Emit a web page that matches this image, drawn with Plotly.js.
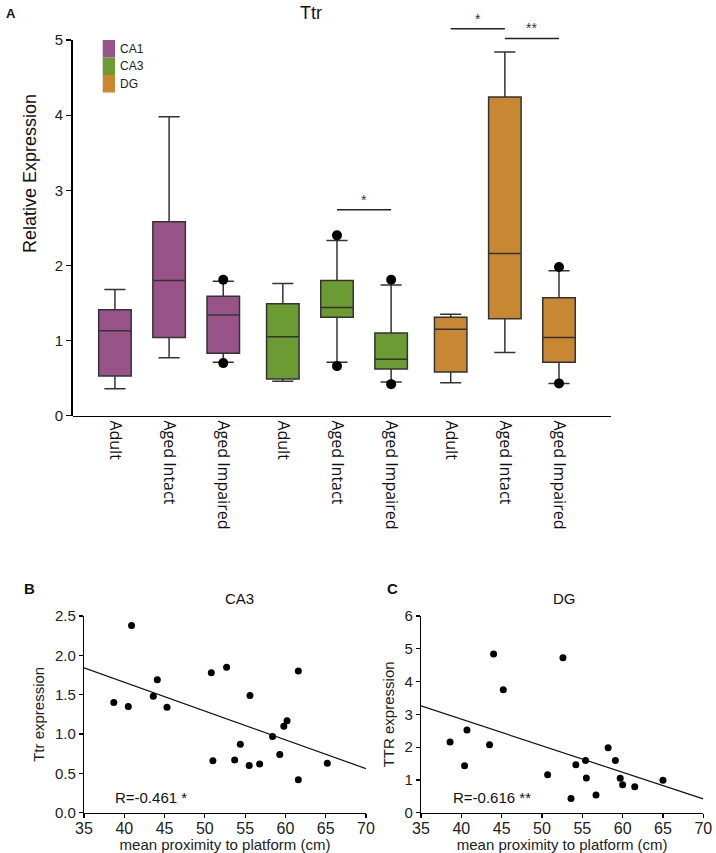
<!DOCTYPE html>
<html>
<head>
<meta charset="utf-8">
<script src="https://cdn.plot.ly/plotly-3.0.1.min.js"></script>
<style>
html, body { margin: 0; padding: 0; background: #ffffff; }
</style>
</head>
<body>
<div id="ttr_figure" style="width:716px;height:853px;"></div>
<script>
var regions = [ 'CA1', 'CA3', 'DG' ];
var conditions = [ 'Adult', 'Aged Intact', 'Aged Impaired' ];

// box statistics, one row per region, one column per condition
var box_upper  = [ [ 1.68, 3.98, 1.79 ], [ 1.76, 2.33, 1.74 ], [ 1.35, 4.84, 1.93 ] ];
var box_q3     = [ [ 1.41, 2.58, 1.59 ], [ 1.49, 1.80, 1.10 ], [ 1.31, 4.24, 1.57 ] ];
var box_median = [ [ 1.13, 1.80, 1.34 ], [ 1.05, 1.44, 0.75 ], [ 1.15, 2.16, 1.04 ] ];
var box_q1     = [ [ 0.53, 1.04, 0.83 ], [ 0.49, 1.31, 0.62 ], [ 0.58, 1.29, 0.71 ] ];
var box_lower  = [ [ 0.36, 0.77, 0.71 ], [ 0.46, 0.71, 0.45 ], [ 0.44, 0.84, 0.43 ] ];

// dots beyond the whiskers: box index ( region * 3 + condition ) and value
var outlier_box   = [ 2, 2, 4, 4, 5, 5, 8, 8 ];
var outlier_value = [ 1.81, 0.70, 2.40, 0.66, 1.81, 0.42, 1.98, 0.43 ];

// significance bars between boxes
var sig_from  = [ 4, 6, 7 ];
var sig_to    = [ 5, 7, 8 ];
var sig_y     = [ 2.74, 5.15, 5.02 ];
var sig_label = [ '*', '*', '**' ];

// panel B, CA3
var proximity_ca3 = [ 38.7, 40.5, 40.9, 43.6, 44.1, 45.3, 50.8, 51.0, 52.7, 53.7, 54.4, 55.6, 55.5, 56.8, 58.4, 59.3, 59.8, 60.2, 61.6, 61.6, 65.2 ];
var ttr_ca3       = [ 1.40, 1.35, 2.38, 1.48, 1.69, 1.34, 1.78, 0.66, 1.85, 0.67, 0.87, 1.49, 0.60, 0.62, 0.97, 0.74, 1.10, 1.17, 1.80, 0.42, 0.63 ];
var fit_x   = [ 35, 70 ];
var fit_ca3 = [ 1.84, 0.56 ];
var r_ca3   = 'R=-0.461 *';

// panel C, DG
var proximity_dg = [ 38.6, 40.4, 40.7, 43.5, 44.0, 45.2, 50.7, 52.6, 53.6, 54.2, 55.4, 55.5, 56.7, 58.2, 59.1, 59.7, 60.0, 61.5, 65.0 ];
var ttr_dg       = [ 2.16, 1.43, 2.52, 2.07, 4.84, 3.75, 1.16, 4.73, 0.43, 1.46, 1.59, 1.06, 0.54, 1.98, 1.59, 1.05, 0.85, 0.79, 0.99 ];
var fit_dg = [ 3.26, 0.42 ];
var r_dg   = 'R=-0.616 **';

var W = 716;
var H = 853;
var region_colors = [ '#985488', '#6c9b34', '#c88732' ];
var sans = 'Liberation Sans, Arial, sans-serif';

function px( x ) { return x / W; }
function py( y ) { return 1 - y / H; }

function box_position( k )
{
    var group = Math.floor( k / 3 );
    return k + 1 + group * 0.1;
}

var data = [];
var tick_positions = [];
var tick_labels = [];

for( var r = 0; r < regions.length; r++ )
{
    var xs = [];
    for( var c = 0; c < conditions.length; c++ )
    {
        xs.push( box_position( r * 3 + c ) );
        tick_positions.push( box_position( r * 3 + c ) );
        tick_labels.push( conditions[ c ] );
    }
    data.push(
        {
            type: 'box',
            name: regions[ r ],
            x: xs,
            q1: box_q1[ r ],
            median: box_median[ r ],
            q3: box_q3[ r ],
            lowerfence: box_lower[ r ],
            upperfence: box_upper[ r ],
            width: 0.6,
            whiskerwidth: 0.65,
            boxpoints: false,
            fillcolor: region_colors[ r ],
            line: { color: '#333333', width: 1.5 },
            xaxis: 'x',
            yaxis: 'y',
            hoverinfo: 'y'
        }
    );
}

data.push(
    {
        type: 'scatter',
        mode: 'markers',
        x: outlier_box.map( box_position ),
        y: outlier_value,
        marker: { color: '#000000', size: 10 },
        cliponaxis: false,
        xaxis: 'x',
        yaxis: 'y'
    }
);

// empty trace so the visible 0-5 axis (x4 / y4) gets drawn
data.push( { type: 'scatter', mode: 'markers', x: [], y: [], xaxis: 'x4', yaxis: 'y4', hoverinfo: 'skip' } );

data.push(
    {
        type: 'scatter', mode: 'markers',
        x: proximity_ca3, y: ttr_ca3,
        marker: { color: '#000000', size: 7 },
        cliponaxis: false,
        xaxis: 'x2', yaxis: 'y2'
    },
    {
        type: 'scatter', mode: 'lines',
        x: fit_x, y: fit_ca3,
        line: { color: '#111111', width: 1.2 },
        xaxis: 'x2', yaxis: 'y2'
    },
    {
        type: 'scatter', mode: 'markers',
        x: proximity_dg, y: ttr_dg,
        marker: { color: '#000000', size: 7 },
        cliponaxis: false,
        xaxis: 'x3', yaxis: 'y3'
    },
    {
        type: 'scatter', mode: 'lines',
        x: fit_x, y: fit_dg,
        line: { color: '#111111', width: 1.2 },
        xaxis: 'x3', yaxis: 'y3'
    }
);

var shapes = [];
var annotations = [];

for( var i = 0; i < sig_from.length; i++ )
{
    var a = box_position( sig_from[ i ] );
    var b = box_position( sig_to[ i ] );
    shapes.push(
        {
            type: 'line', xref: 'x', yref: 'y',
            x0: a, x1: b, y0: sig_y[ i ], y1: sig_y[ i ],
            line: { color: '#222222', width: 1.5 }
        }
    );
    annotations.push(
        {
            xref: 'x', yref: 'y', x: ( a + b ) / 2, y: sig_y[ i ],
            text: sig_label[ i ], showarrow: false, yanchor: 'bottom',
            font: { family: sans, size: 14, color: '#333333' }
        }
    );
}

// legend swatches
for( var r = 0; r < regions.length; r++ )
{
    var swatch_top = 40 + r * 17.5;
    shapes.push(
        {
            type: 'rect', xref: 'paper', yref: 'paper',
            x0: px( 102.7 ), x1: px( 115 ), y0: py( swatch_top ), y1: py( swatch_top + 17.5 ),
            fillcolor: region_colors[ r ], line: { width: 0 }
        }
    );
    annotations.push(
        {
            xref: 'paper', yref: 'paper', x: px( 117.5 ), y: py( swatch_top + 9 ),
            xanchor: 'left', yanchor: 'middle', showarrow: false, text: regions[ r ],
            font: { family: sans, size: 12, color: '#222222' }
        }
    );
}

function label( text, x, y, size, anchor, bold, angle )
{
    annotations.push(
        {
            xref: 'paper', yref: 'paper', x: px( x ), y: py( y ),
            xanchor: anchor, yanchor: 'middle', showarrow: false,
            text: bold ? '<b>' + text + '</b>' : text,
            textangle: angle || 0,
            font: { family: sans, size: size, color: '#111111' }
        }
    );
}

label( 'A', 4, 13, 13, 'left', true );
label( 'Ttr', 311, 13, 18, 'center', false );
label( 'Relative Expression', 30, 174, 18, 'center', false, -90 );
label( 'B', 22, 588, 15, 'left', true );
label( 'C', 385, 588, 15, 'left', true );
label( 'CA3', 240, 598, 15, 'center', false );
label( 'DG', 564, 598, 15, 'center', false );
label( r_ca3, 113, 797, 15, 'left', false );
label( r_dg, 451, 797, 15, 'left', false );

function scatter_x_axis( domain, anchor )
{
    return {
        domain: domain, anchor: anchor, range: [ 35, 70 ], dtick: 5,
        showline: true, linecolor: '#000000', linewidth: 1.2,
        ticks: 'outside', ticklen: 4, tickwidth: 1.2, tickcolor: '#000000',
        ticklabelstandoff: -3,
        showgrid: false, zeroline: false,
        tickfont: { family: sans, size: 16, color: '#222222' },
        title: { text: 'mean proximity to platform (cm)', standoff: 2, font: { family: sans, size: 15, color: '#222222' } }
    };
}

function scatter_y_axis( domain, anchor, range, dtick, format, title )
{
    return {
        domain: domain, anchor: anchor, range: range, dtick: dtick, tickformat: format,
        showline: true, linecolor: '#000000', linewidth: 1.2,
        ticks: 'outside', ticklen: 4, tickwidth: 1.2, tickcolor: '#000000',
        showgrid: false, zeroline: false,
        tickfont: { family: sans, size: 15, color: '#222222' },
        title: { text: title, standoff: 6, font: { family: sans, size: 15, color: '#222222' } }
    };
}

// box axes reach above 5 for the significance bars; the visible y axis is y4
var layout =
{
    width: W,
    height: H,
    margin: { l: 0, r: 0, t: 0, b: 0 },
    paper_bgcolor: '#ffffff',
    plot_bgcolor: 'rgba(0,0,0,0)',
    showlegend: false,
    boxmode: 'overlay',
    xaxis:
    {
        domain: [ px( 72.7 ), px( 611 ) ], anchor: 'y',
        range: [ 0.22, 10.16 ],
        tickvals: tick_positions, ticktext: tick_labels, tickangle: 90,
        ticks: '', showgrid: false, zeroline: false,
        showline: true, linecolor: '#000000', linewidth: 1.5,
        tickfont: { family: 'Open Sans, sans-serif', size: 16, color: '#111111' }
    },
    yaxis:
    {
        domain: [ py( 415.7 ), py( 9.94 ) ], anchor: 'x',
        range: [ 0, 5.4 ], visible: false,
        showgrid: false, zeroline: false
    },
    xaxis4:
    {
        domain: [ px( 72.7 ), px( 611 ) ], anchor: 'y4',
        range: [ 0.22, 10.16 ], visible: false,
        showgrid: false, zeroline: false
    },
    yaxis4:
    {
        domain: [ py( 415.7 ), py( 40 ) ], anchor: 'x4',
        range: [ 0, 5 ], tickvals: [ 0, 1, 2, 3, 4, 5 ],
        showline: true, linecolor: '#000000', linewidth: 1.5,
        showgrid: false, zeroline: false,
        ticks: 'outside', ticklen: 5, tickwidth: 1.2, tickcolor: '#000000',
        tickfont: { family: sans, size: 15, color: '#222222' }
    },
    xaxis2: scatter_x_axis( [ px( 84 ), px( 366 ) ], 'y2' ),
    yaxis2: scatter_y_axis( [ py( 812.7 ), py( 616 ) ], 'x2', [ 0, 2.5 ], 0.5, '.1f', 'Ttr expression' ),
    xaxis3: scatter_x_axis( [ px( 421 ), px( 703.3 ) ], 'y3' ),
    yaxis3: scatter_y_axis( [ py( 812.7 ), py( 616 ) ], 'x3', [ 0, 6 ], 1, '', 'TTR expression' ),
    shapes: shapes,
    annotations: annotations
};

var config = { displayModeBar: false, responsive: false, staticPlot: true };

Plotly.newPlot( document.getElementById( 'ttr_figure' ), data, layout, config );
</script>
</body>
</html>
